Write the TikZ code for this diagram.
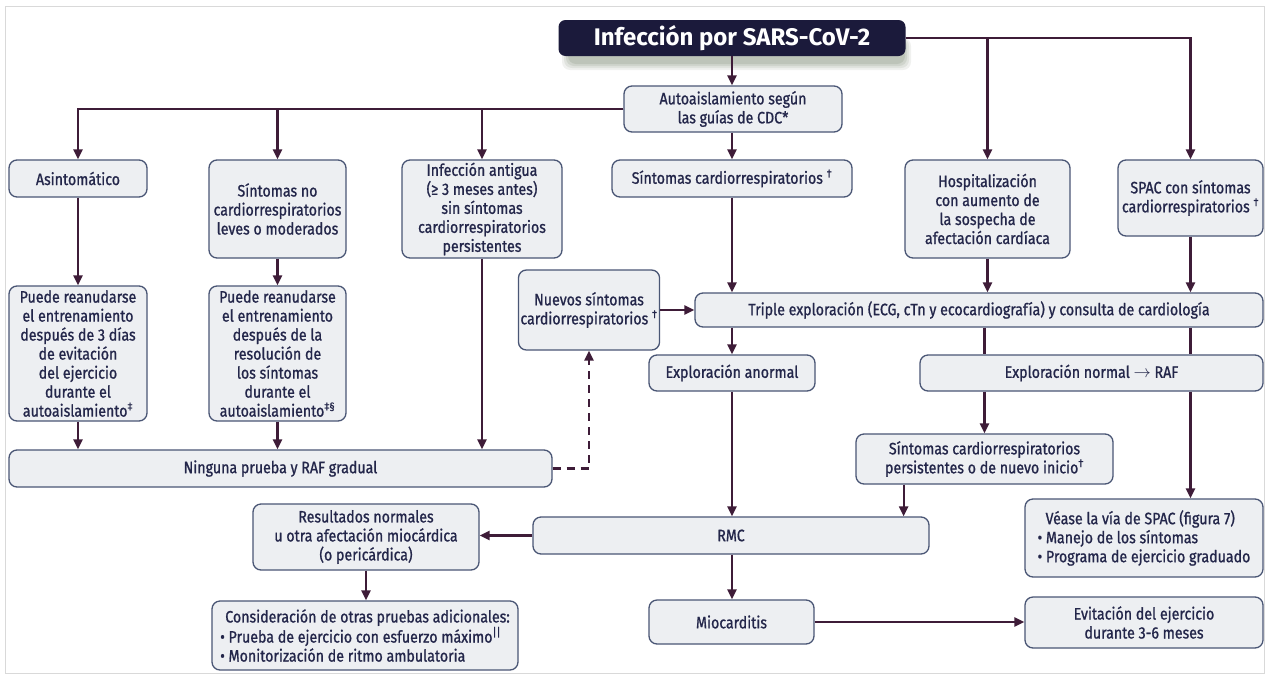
\documentclass[tikz,border=0pt]{standalone}
\usepackage{fontspec}
\setmainfont{Fira Sans}[FakeStretch=0.86,FakeBold=1.0]
\newfontfamily\titlefont{Fira Sans}
\usetikzlibrary{arrows.meta}
\definecolor{boxfill}{HTML}{EDEFF2}
\definecolor{boxdraw}{HTML}{4A5675}
\definecolor{arrcol}{HTML}{3E1C38}
\definecolor{titlefill}{HTML}{1B1A3B}
\definecolor{shadowcol}{HTML}{6F7F68}
\definecolor{textcol}{HTML}{23264A}
\newcommand{\bx}[7][]{\node[box,minimum width={#5-#3},minimum height={#6-#4},#1] (#2) at ({(#3+#5)/2},{(#4+#6)/2}) {#7};}
\begin{document}
\begin{tikzpicture}[x=1pt,y=-1pt,
  box/.style={draw=boxdraw,fill=boxfill,rounded corners=8pt,line width=1.3pt,align=center,inner sep=2pt,
    text=textcol,font=\fontsize{16.5}{19}\selectfont},
  arr/.style={draw=arrcol,line width=2.3pt,-{Triangle[length=10pt,width=9pt]}},
  plain/.style={draw=arrcol,line width=2.3pt},
  dasharr/.style={draw=arrcol,line width=2.3pt,dash pattern=on 8pt off 6pt,-{Triangle[length=10pt,width=9pt]}}]
\fill[white] (0,0) rectangle (1269,678);
\useasboundingbox (0,0) rectangle (1269,678);
\draw[black!15,line width=1pt] (5,6) rectangle (1264,673);
% title shadow
\foreach \o/\op in {10/0.10,8/0.12,6/0.15,4/0.18}{
  \fill[shadowcol,opacity=\op,rounded corners=8pt] (572-\o,38) rectangle (901+\o,60+\o);
}
\node[fill=titlefill,rounded corners=7pt,minimum width=347,minimum height=36,text=white,inner sep=2pt,
  font=\titlefont\fontsize{24}{28}\selectfont\bfseries] (title) at (732,38) {Infección por SARS-CoV-2};
\bx{auto}{624}{86}{842}{132}{Autoaislamiento según\\las guías de CDC*}
\bx{asin}{9}{160}{147}{197}{Asintomático}
\bx{sno}{209}{160}{346}{258}{Síntomas no\\cardiorrespiratorios\\leves o moderados}
\bx{ant}{402}{160}{562}{258}{Infección antigua\\(≥ 3 meses antes)\\sin síntomas\\cardiorrespiratorios\\persistentes}
\bx{scard}{612}{160}{852}{197}{Síntomas cardiorrespiratorios \textsuperscript{†}}
\bx{hosp}{905}{160}{1070}{258}{Hospitalización\\con aumento de\\la sospecha de\\afectación cardíaca}
\bx{spac}{1118}{160}{1263}{236}{SPAC con síntomas\\cardiorrespiratorios \textsuperscript{†}}
\bx{pa}{9}{286}{147}{421}{Puede reanudarse\\el entrenamiento\\después de 3 días\\de evitación\\del ejercicio\\durante el\\autoaislamiento\textsuperscript{‡}}
\bx{pb}{209}{286}{346}{421}{Puede reanudarse\\el entrenamiento\\después de la\\resolución de\\los síntomas\\durante el\\autoaislamiento\textsuperscript{‡§}}
\bx{nuevos}{520}{270}{658}{350}{Nuevos síntomas\\cardiorrespiratorios \textsuperscript{†}}
\bx{triple}{695}{293}{1263}{327}{Triple exploración (ECG, cTn y ecocardiografía) y consulta de cardiología}
\bx{anorm}{649}{355}{815}{391}{Exploración anormal}
\bx{normal}{920}{355}{1263}{391}{Exploración normal $\rightarrow$ RAF}
\bx{persist}{856}{434}{1113}{484}{Síntomas cardiorrespiratorios\\persistentes o de nuevo inicio\textsuperscript{†}}
\bx{ning}{9}{450}{552}{487}{Ninguna prueba y RAF gradual}
\bx{res}{253}{504}{479}{570}{Resultados normales\\u otra afectación miocárdica\\(o pericárdica)}
\bx{rmc}{533}{517}{929}{554}{RMC}
\bx[align=left]{vease}{1025}{499}{1263}{577}{\hspace{8pt}Véase la vía de SPAC (figura 7)\\• Manejo de los síntomas\\• Programa de ejercicio graduado}
\bx[align=left]{consid}{212}{601}{518}{670}{\hspace{5pt}Consideración de otras pruebas adicionales:\\• Prueba de ejercicio con esfuerzo máximo\textsuperscript{||}\\• Monitorización de ritmo ambulatoria}
\bx{mio}{649}{600}{814}{644}{Miocarditis}
\bx{evit}{1025}{597}{1263}{648}{Evitación del ejercicio\\durante 3-6 meses}
% connectors
\draw[arr] (title.south) -- (auto.north -| title.south);
\draw[arr] (auto.west) -| (asin.north);
\draw[arr] (auto.west) -| (sno.north);
\draw[arr] (auto.west) -| (ant.north);
\draw[arr] (auto.south -| scard.north) -- (scard.north);
\draw[arr] (title.east) -| (hosp.north);
\draw[arr] (title.east) -| (spac.north);
\draw[arr] (asin.south) -- (pa.north);
\draw[arr] (sno.south) -- (pb.north);
\draw[arr] (pa.south) -- (pa.south |- ning.north);
\draw[arr] (pb.south) -- (pb.south |- ning.north);
\draw[arr] (ant.south) -- (ant.south |- ning.north);
\draw[dasharr] (ning.east) -| (nuevos.south);
\draw[arr] (nuevos.east) -- (nuevos.east -| triple.west);
\draw[arr] (scard.south) -- (scard.south |- triple.north);
\draw[arr] (hosp.south) -- (hosp.south |- triple.north);
\draw[arr] (spac.south) -- (spac.south |- triple.north);
\draw[arr] (triple.south -| scard.south) -- (anorm.north -| scard.south);
\draw[plain] (triple.south -| persist.north) -- (normal.north -| persist.north);
\draw[plain] (triple.south -| spac.south) -- (normal.north -| spac.south);
\draw[arr] (normal.south -| persist.north) -- (persist.north);
\draw[arr] (normal.south -| spac.south) -- (vease.north -| spac.south);
\draw[arr] (anorm.south -| scard.south) -- (rmc.north -| scard.south);
\draw[arr] ([xshift=-26pt]rmc.north east |- persist.south) -- ([xshift=-26pt]rmc.north east);
\draw[arr] (rmc.west) -- (rmc.west -| res.east);
\draw[arr] (res.south) -- (res.south |- consid.north);
\draw[arr] (rmc.south -| scard.south) -- (mio.north -| scard.south);
\draw[arr] (mio.east) -- (mio.east -| evit.west);
\end{tikzpicture}
\end{document}
